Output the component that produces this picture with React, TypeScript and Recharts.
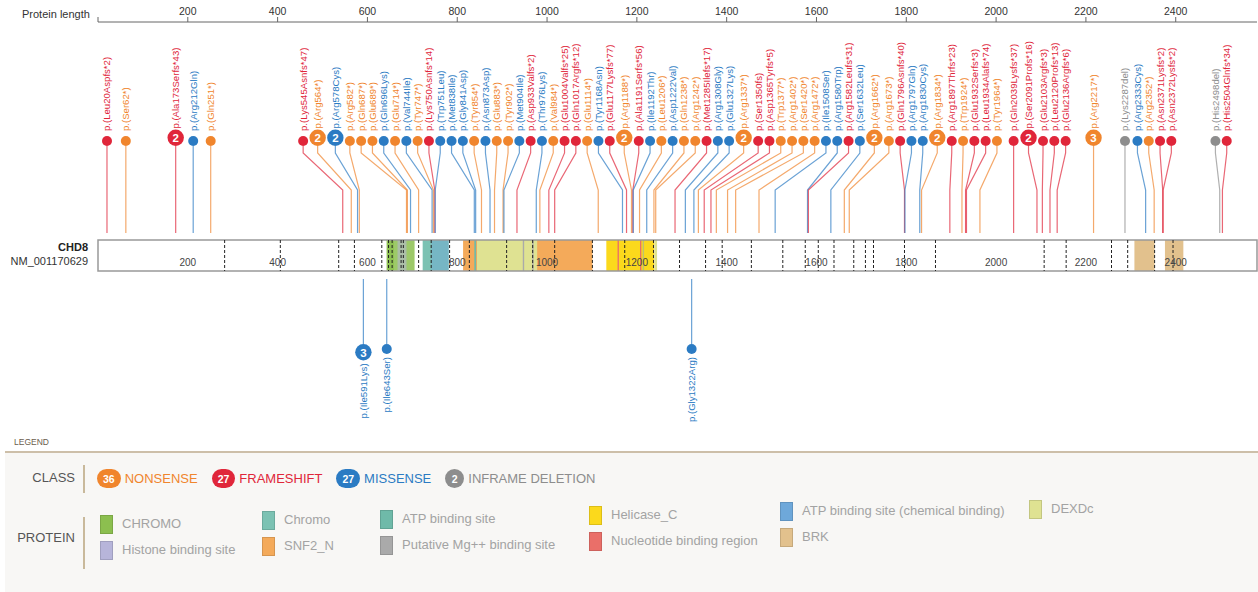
import React from "react";
import { ScatterChart, Scatter, XAxis, YAxis, ReferenceArea, ReferenceLine } from "recharts";

const PROTEIN_LENGTH = 2581;
const axisTicks = [0, 200, 400, 600, 800, 1000, 1200, 1400, 1600, 1800, 2000, 2200, 2400];
const barTicks = [200, 400, 600, 800, 1000, 1200, 1400, 1600, 1800, 2000, 2200, 2400];

// class keys: N nonsense, F frameshift, M missense, D inframe deletion
const classKeys = ["N", "F", "M", "D"];
const classNames = ["NONSENSE", "FRAMESHIFT", "MISSENSE", "INFRAME DELETION"];

// [position, protein change, class, count]
const upperMutations: [number, string, string, number][] = [
  [20, "p.(Leu20Aspfs*2)", "F", 1],
  [62, "p.(Ser62*)", "N", 1],
  [173, "p.(Ala173Serfs*43)", "F", 2],
  [212, "p.(Arg212Gln)", "M", 1],
  [251, "p.(Gln251*)", "N", 1],
  [545, "p.(Lys545Asnfs*47)", "F", 1],
  [564, "p.(Arg564*)", "N", 2],
  [578, "p.(Arg578Cys)", "M", 2],
  [582, "p.(Arg582*)", "N", 1],
  [687, "p.(Gln687*)", "N", 1],
  [689, "p.(Glu689*)", "N", 1],
  [696, "p.(Gln696Lys)", "M", 1],
  [714, "p.(Glu714*)", "N", 1],
  [744, "p.(Val744Ile)", "M", 1],
  [747, "p.(Tyr747*)", "N", 1],
  [750, "p.(Lys750Asnfs*14)", "F", 1],
  [751, "p.(Trp751Leu)", "M", 1],
  [838, "p.(Met838Ile)", "M", 1],
  [841, "p.(Gly841Asp)", "M", 1],
  [854, "p.(Tyr854*)", "N", 1],
  [873, "p.(Asn873Asp)", "M", 1],
  [883, "p.(Glu883*)", "N", 1],
  [902, "p.(Tyr902*)", "N", 1],
  [904, "p.(Met904Ile)", "M", 1],
  [933, "p.(Asp933Valfs*2)", "F", 1],
  [976, "p.(Thr976Lys)", "M", 1],
  [984, "p.(Val984*)", "N", 1],
  [1004, "p.(Glu1004Valfs*25)", "F", 1],
  [1017, "p.(Gln1017Argfs*12)", "F", 1],
  [1114, "p.(Glu1114*)", "N", 1],
  [1168, "p.(Tyr1168Asn)", "M", 1],
  [1177, "p.(Glu1177Lysfs*77)", "F", 1],
  [1188, "p.(Arg1188*)", "N", 2],
  [1191, "p.(Ala1191Serfs*56)", "F", 1],
  [1192, "p.(Ile1192Thr)", "M", 1],
  [1206, "p.(Leu1206*)", "N", 1],
  [1222, "p.(Asp1222Val)", "M", 1],
  [1238, "p.(Gln1238*)", "N", 1],
  [1242, "p.(Arg1242*)", "N", 1],
  [1285, "p.(Met1285Ilefs*17)", "F", 1],
  [1308, "p.(Arg1308Gly)", "M", 1],
  [1327, "p.(Glu1327Lys)", "M", 1],
  [1337, "p.(Arg1337*)", "N", 2],
  [1350, "p.(Ser1350fs)", "F", 1],
  [1365, "p.(Asp1365Tyrfs*5)", "F", 1],
  [1377, "p.(Trp1377*)", "N", 1],
  [1402, "p.(Arg1402*)", "N", 1],
  [1420, "p.(Ser1420*)", "N", 1],
  [1472, "p.(Arg1472*)", "N", 1],
  [1508, "p.(Ile1508Ser)", "M", 1],
  [1580, "p.(Arg1580Trp)", "M", 1],
  [1582, "p.(Arg1582Leufs*31)", "F", 1],
  [1632, "p.(Ser1632Leu)", "M", 1],
  [1662, "p.(Arg1662*)", "N", 2],
  [1673, "p.(Arg1673*)", "N", 1],
  [1796, "p.(Gln1796Asnfs*40)", "F", 1],
  [1797, "p.(Arg1797Gln)", "M", 1],
  [1830, "p.(Arg1830Cys)", "M", 1],
  [1834, "p.(Arg1834*)", "N", 2],
  [1897, "p.(Arg1897Thrfs*23)", "F", 1],
  [1924, "p.(Trp1924*)", "N", 1],
  [1932, "p.(Glu1932Serfs*3)", "F", 1],
  [1934, "p.(Leu1934Alafs*74)", "F", 1],
  [1964, "p.(Tyr1964*)", "N", 1],
  [2039, "p.(Gln2039Lysfs*37)", "F", 1],
  [2091, "p.(Ser2091Profs*16)", "F", 2],
  [2103, "p.(Glu2103Argfs*3)", "F", 1],
  [2120, "p.(Leu2120Profs*13)", "F", 1],
  [2136, "p.(Glu2136Argfs*6)", "F", 1],
  [2217, "p.(Arg2217*)", "N", 3],
  [2287, "p.(Lys2287del)", "D", 1],
  [2333, "p.(Arg2333Cys)", "M", 1],
  [2352, "p.(Arg2352*)", "N", 1],
  [2371, "p.(Asn2371Lysfs*2)", "F", 1],
  [2372, "p.(Asn2372Lysfs*2)", "F", 1],
  [2498, "p.(His2498del)", "D", 1],
  [2504, "p.(His2504Glnfs*34)", "F", 1],
];

const lowerMutations: [number, string, string, number][] = [
  [591, "p.(Ile591Lys)", "M", 3],
  [643, "p.(Ile643Ser)", "M", 1],
  [1322, "p.(Gly1322Arg)", "M", 1],
];

// protein features [name, start, end]
const domains: [string, number, number][] = [
  ["CHROMO", 643, 705],
  ["CHROMO", 643, 659],
  ["Histone binding site", 667, 687],
  ["Chromo", 723, 781],
  ["ATP binding site (chemical binding)", 742, 781],
  ["SNF2_N", 813, 1101],
  ["DEXDc", 844, 978],
  ["ATP binding site", 838, 842],
  ["Putative Mg++ binding site", 946, 949],
  ["Putative Mg++ binding site", 967, 970],
  ["Helicase_C", 1132, 1239],
  ["DEXDc", 1239, 1245],
  ["Nucleotide binding region", 1157, 1160],
  ["Nucleotide binding region", 1207, 1210],
  ["ATP binding site (chemical binding)", 1213, 1216],
  ["BRK", 2308, 2353],
  ["BRK", 2376, 2417],
];

const exonBoundaries = [
  282, 406, 536, 571, 632, 647, 655, 675, 680, 714, 742, 783, 827, 910, 968, 1017, 1101, 1173,
  1237, 1295, 1353, 1390, 1455, 1525, 1575, 1604, 1639, 1683, 1709, 1727, 1796, 1865, 2107,
  2156, 2257, 2293, 2353, 2394,
];

const legendColumns = [
  ["CHROMO", "Histone binding site"],
  ["Chromo", "SNF2_N"],
  ["ATP binding site", "Putative Mg++ binding site"],
  ["Helicase_C", "Nucleotide binding region"],
  ["ATP binding site (chemical binding)", "BRK"],
  ["DEXDc"],
];

// ---- styles / layout ----
const CLASS_COLORS: Record<string, string> = { N: "#f0852d", F: "#e0263a", M: "#2b7bc3", D: "#8d8d8d" };
const DOMAIN_COLORS: Record<string, string> = {
  CHROMO: "#8cbf4f",
  "Histone binding site": "#b7b5da",
  Chromo: "#7cc2b3",
  SNF2_N: "#f4aa5a",
  "ATP binding site": "#6fbaa9",
  "Putative Mg++ binding site": "#aaaaaa",
  Helicase_C: "#fbd91c",
  "Nucleotide binding region": "#ea6f69",
  "ATP binding site (chemical binding)": "#6ea8da",
  BRK: "#e2c18d",
  DEXDc: "#dfe292",
};
const DOMAIN_OPACITY: Record<string, number> = {
  CHROMO: 0.85,
  "Histone binding site": 0.55,
  "ATP binding site (chemical binding)": 0.45,
};
const legendColumnX = [100, 262, 380, 589, 780, 1029];
const legendColumnTop = [514, 510, 509, 505, 501, 499];

const FONT = '"Liberation Sans", Arial, Helvetica, sans-serif';
const CHART_W = 1258;
const CHART_H = 440;
const MARGIN = { top: 0, right: 1, bottom: 0, left: 98 };
const AXIS_H = 22;
const AA_PER_PX = PROTEIN_LENGTH / (CHART_W - MARGIN.left - MARGIN.right);

const HEAD_BASE = 146;
const BEND_TOP = 153;
const BEND_BOTTOM = 190;
const STEM_END = 233;
const BAR_TOP = 240;
const BAR_BOTTOM = 271;
const BAR_LABEL_Y = 262;
const LOWER_STEM_START = 279;
const LOWER_HEAD_TOP = 344;
const HEAD_GAP = 1.3;

const headRadius = (count: number) => (count > 1 ? 8.2 : 5);

type Mut = { pos: number; label: string; cls: string; count: number };

const toMuts = (rows: [number, string, string, number][]): Mut[] =>
  rows.map(([pos, label, cls, count]) => ({ pos, label, cls, count }));

const pairGap = (a: Mut, b: Mut) => (headRadius(a.count) + headRadius(b.count) + HEAD_GAP) * AA_PER_PX;

// Spread the heads so they don't overlap.
// 1) least-squares pooling (PAV) decides which heads have to form a packed group
// 2) each group is centred on the span of its true positions, split where it no longer needs to be packed
function spreadHeads(muts: Mut[]) {
  const sorted = [...muts].sort((a, b) => a.pos - b.pos);
  const layoutOffsets = (b: any) => {
    let off = 0;
    b.offsets = [0];
    for (let i = 1; i < b.items.length; i++) {
      off += pairGap(b.items[i - 1], b.items[i]);
      b.offsets.push(off);
    }
    b.span = off;
  };
  const fit = (b: any) => {
    layoutOffsets(b);
    b.start = b.items.reduce((s: number, m: Mut, i: number) => s + m.pos - b.offsets[i], 0) / b.items.length;
  };
  const centred = (items: Mut[]) => {
    const b: any = { items };
    layoutOffsets(b);
    const centre = (items[0].pos + items[items.length - 1].pos) / 2;
    b.start = Math.max(0, Math.min(PROTEIN_LENGTH - b.span, centre - b.span / 2));
    return b;
  };
  const clear = (a: any, b: any) =>
    !a || !b || a.start + a.span + pairGap(a.items[a.items.length - 1], b.items[0]) <= b.start;

  let blocks: any[] = [];
  for (const m of sorted) {
    const nb = { items: [m] };
    fit(nb);
    blocks.push(nb);
    while (blocks.length > 1) {
      const a = blocks[blocks.length - 2];
      const c = blocks[blocks.length - 1];
      if (clear(a, c)) break;
      blocks.pop();
      a.items = a.items.concat(c.items);
      fit(a);
    }
  }

  blocks = blocks.map((b) => centred(b.items));
  let changed = true;
  while (changed) {
    changed = false;
    for (let bi = 0; bi < blocks.length && !changed; bi++) {
      const b = blocks[bi];
      for (let k = 1; k < b.items.length; k++) {
        const L = centred(b.items.slice(0, k));
        const R = centred(b.items.slice(k));
        if (clear(blocks[bi - 1], L) && clear(L, R) && clear(R, blocks[bi + 1])) {
          blocks.splice(bi, 1, L, R);
          changed = true;
          break;
        }
      }
    }
  }

  blocks.forEach((b, i) => {
    if (i > 0) {
      const p = blocks[i - 1];
      b.start = Math.max(b.start, p.start + p.span + pairGap(p.items[p.items.length - 1], b.items[0]));
    }
  });
  return blocks.flatMap((b) => b.items.map((m: Mut, i: number) => ({ ...m, head: b.start + b.offsets[i] })));
}

const upper = spreadHeads(toMuts(upperMutations));
const lower = toMuts(lowerMutations).map((m) => ({ ...m, head: m.pos }));

const headPoints = [
  ...upper.map((m) => ({ x: m.head, y: HEAD_BASE, side: "up", ...m })),
  ...lower.map((m) => ({ x: m.head, y: LOWER_HEAD_TOP, side: "down", ...m })),
];

const classTotals = classKeys.map((k) =>
  [...upperMutations, ...lowerMutations].filter((r) => r[2] === k).reduce((s, r) => s + r[3], 0)
);

const Nothing = () => <g />;

const HeadShape = (props: any) => {
  const { cx, cy, payload } = props;
  const color = CLASS_COLORS[payload.cls];
  const r = headRadius(payload.count);
  const up = payload.side === "up";
  const ccy = up ? cy - r : cy + r;
  const ly = up ? Math.min(cy - 15, cy - 2 * r - 1) : cy + 2 * r + 3;
  return (
    <g>
      <circle cx={cx} cy={ccy} r={r} fill={color} />
      {payload.count > 1 && (
        <text x={cx} y={ccy + 0.5} textAnchor="middle" dominantBaseline="central" fill="#fff" fontSize={11.5} fontWeight="bold" fontFamily={FONT}>
          {payload.count}
        </text>
      )}
      <text
        x={cx}
        y={ly}
        transform={`rotate(-90 ${cx} ${ly})`}
        textAnchor={up ? "start" : "end"}
        dominantBaseline="central"
        fill={color}
        fontSize={9.6}
        fontFamily={FONT}
      >
        {payload.label}
      </text>
    </g>
  );
};

const BarTickShape = (props: any) => (
  <text x={props.cx} y={props.cy} textAnchor="middle" dominantBaseline="central" fontSize={10} fill="#444" fontFamily={FONT}>
    {props.payload.x}
  </text>
);

const LollipopChart = () => (
  <ScatterChart width={CHART_W} height={CHART_H} margin={MARGIN}>
    <XAxis
      type="number"
      dataKey="x"
      domain={[0, PROTEIN_LENGTH]}
      orientation="top"
      height={AXIS_H}
      ticks={axisTicks}
      interval={0}
      tickSize={5}
      tickFormatter={(v: number) => (v === 0 ? "" : String(v))}
      tick={{ fontSize: 10.5, fill: "#333", fontFamily: FONT }}
      stroke="#666"
    />
    <YAxis type="number" dataKey="y" domain={[AXIS_H, CHART_H]} reversed hide />

    <ReferenceArea x1={0} x2={PROTEIN_LENGTH} y1={BAR_TOP} y2={BAR_BOTTOM} fill="#fff" fillOpacity={1} stroke="none" />
    {domains.map(([name, start, end], i) => (
      <ReferenceArea
        key={`dom-${i}`}
        x1={start}
        x2={end}
        y1={BAR_TOP}
        y2={BAR_BOTTOM}
        fill={DOMAIN_COLORS[name]}
        fillOpacity={DOMAIN_OPACITY[name] ?? 1}
        stroke="none"
      />
    ))}
    {exonBoundaries.map((p) => (
      <ReferenceLine
        key={`ex-${p}`}
        segment={[
          { x: p, y: BAR_TOP },
          { x: p, y: BAR_BOTTOM },
        ]}
        stroke="#222"
        strokeWidth={1}
        strokeDasharray="3 2"
      />
    ))}
    <ReferenceArea
      x1={0}
      x2={PROTEIN_LENGTH}
      y1={BAR_TOP}
      y2={BAR_BOTTOM}
      fill="#fff"
      fillOpacity={0}
      stroke="#999"
      strokeWidth={1.5}
    />

    <Scatter
      data={barTicks.map((t) => ({ x: t, y: BAR_LABEL_Y }))}
      shape={BarTickShape}
      isAnimationActive={false}
    />

    {upper.map((m, i) => (
      <Scatter
        key={`stem-u-${i}`}
        data={[
          { x: m.head, y: HEAD_BASE },
          { x: m.head, y: BEND_TOP },
          { x: m.pos, y: BEND_BOTTOM },
          { x: m.pos, y: STEM_END },
        ]}
        line={{ stroke: CLASS_COLORS[m.cls], strokeWidth: 1.2, strokeOpacity: 0.7 }}
        lineType="joint"
        shape={Nothing}
        isAnimationActive={false}
      />
    ))}
    {lower.map((m, i) => (
      <Scatter
        key={`stem-l-${i}`}
        data={[
          { x: m.pos, y: LOWER_STEM_START },
          { x: m.head, y: LOWER_HEAD_TOP },
        ]}
        line={{ stroke: CLASS_COLORS[m.cls], strokeWidth: 1.2, strokeOpacity: 0.7 }}
        lineType="joint"
        shape={Nothing}
        isAnimationActive={false}
      />
    ))}

    <Scatter data={headPoints} shape={HeadShape} isAnimationActive={false} />
  </ScatterChart>
);

const Legend = () => (
  <>
    <div style={{ position: "absolute", left: 14, top: 437, fontSize: 8.5, lineHeight: "10px", color: "#6b5d4d" }}>
      LEGEND
    </div>
    <div style={{ position: "absolute", left: 5, top: 451, width: 1253, height: 2, background: "#cdbfa9" }} />
    <div style={{ position: "absolute", left: 5, top: 453, width: 1253, height: 139, background: "#f8f7f5" }} />

    <div style={{ position: "absolute", left: 0, width: 75, top: 470, textAlign: "right", fontSize: 13, lineHeight: "16px", color: "#555" }}>
      CLASS
    </div>
    <div style={{ position: "absolute", left: 83, top: 465, width: 1.5, height: 28, background: "#c9b99b" }} />
    <div style={{ position: "absolute", left: 97, top: 469, height: 19, display: "flex", alignItems: "center" }}>
      {classKeys.map((k, i) => (
        <div key={k} style={{ display: "flex", alignItems: "center", marginRight: 14 }}>
          <div
            style={{
              minWidth: 19,
              height: 19,
              padding: "0 6px",
              boxSizing: "border-box",
              borderRadius: 9.5,
              background: CLASS_COLORS[k],
              color: "#fff",
              fontSize: 10.5,
              fontWeight: "bold",
              display: "flex",
              alignItems: "center",
              justifyContent: "center",
            }}
          >
            {classTotals[i]}
          </div>
          <span style={{ marginLeft: 4, fontSize: 13, lineHeight: "16px", color: CLASS_COLORS[k] }}>{classNames[i]}</span>
        </div>
      ))}
    </div>

    <div style={{ position: "absolute", left: 0, width: 75, top: 530, textAlign: "right", fontSize: 13, lineHeight: "16px", color: "#555" }}>
      PROTEIN
    </div>
    <div style={{ position: "absolute", left: 83, top: 517, width: 1.5, height: 52, background: "#c9b99b" }} />
    {legendColumns.map((col, ci) =>
      col.map((name, ri) => (
        <div
          key={name}
          style={{
            position: "absolute",
            left: legendColumnX[ci],
            top: legendColumnTop[ci] + ri * 26,
            height: 20,
            display: "flex",
            alignItems: "center",
          }}
        >
          <div
            style={{
              width: 13,
              height: 19,
              boxSizing: "border-box",
              background: DOMAIN_COLORS[name],
              border: "1px solid rgba(0,0,0,0.12)",
            }}
          />
          <span style={{ marginLeft: 9, fontSize: 13, lineHeight: "16px", color: "#a3a3a3", whiteSpace: "nowrap" }}>{name}</span>
        </div>
      ))
    )}
  </>
);

export default function App() {
  return (
    <div
      style={{
        position: "absolute",
        left: 0,
        top: 0,
        width: 1258,
        height: 592,
        background: "#fff",
        fontFamily: FONT,
        overflow: "hidden",
      }}
    >
      <div style={{ position: "absolute", left: 22, top: 7, fontSize: 11, lineHeight: "14px", color: "#333" }}>
        Protein length
      </div>
      <div style={{ position: "absolute", left: 0, top: 0 }}>
        <LollipopChart />
      </div>
      <div style={{ position: "absolute", left: 0, width: 88, top: 241, textAlign: "right", color: "#222" }}>
        <div style={{ fontSize: 11, fontWeight: "bold", lineHeight: "13px" }}>CHD8</div>
        <div style={{ fontSize: 11, lineHeight: "14px", color: "#333" }}>NM_001170629</div>
      </div>
      <Legend />
    </div>
  );
}
